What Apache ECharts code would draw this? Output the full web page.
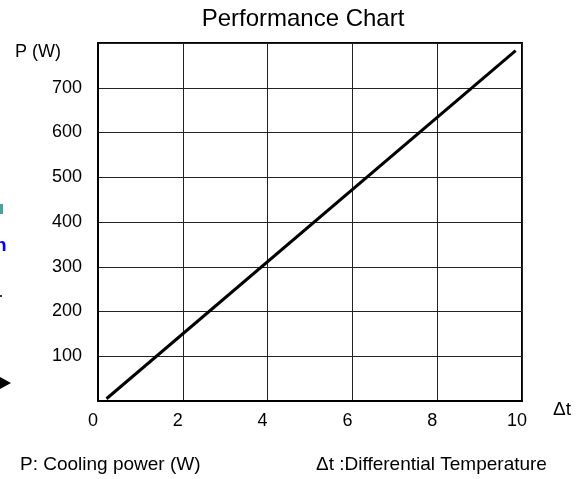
<!DOCTYPE html>
<html><head><meta charset="utf-8">
<script src="https://cdn.jsdelivr.net/npm/echarts@6/dist/echarts.min.js"></script>
<style>html,body{margin:0;padding:0;background:#fff}#c{width:585px;height:479px}</style>
</head><body><div id="c"></div>
<script>
const title = 'Performance Chart';
const yName = 'P (W)';
const xName = 'Δt';
const noteLeft = 'P: Cooling power (W)';
const noteRight = 'Δt :Differential Temperature';
const deltaT = [0.2, 9.85];
const power = [5, 783];
const xMin = 0, xMax = 10, xStep = 2;
const yMin = 0, yMax = 800, yStep = 100;

const chart = echarts.init(document.getElementById('c'));
const F = 'Liberation Sans, Arial, sans-serif';
chart.setOption({
  animation: false,
  backgroundColor: '#fff',
  title: {text: title, left: 298, top: 2, textAlign: 'center',
    textStyle: {fontFamily: F, fontSize: 24, fontWeight: 'normal', color: '#000'}},
  grid: {left: 98, right: 63, top: 43, bottom: 78, show: true, borderColor: '#000', borderWidth: 2},
  xAxis: {type: 'value', min: xMin, max: xMax, interval: xStep,
    axisLine: {show: true, lineStyle: {color: '#000', width: 2}},
    axisTick: {show: false},
    axisLabel: {color: '#000', fontFamily: F, fontSize: 18, margin: 11, padding: [0, 10, 0, 0]},
    splitLine: {show: true, lineStyle: {color: '#222', width: 1}}},
  yAxis: {type: 'value', min: yMin, max: yMax, interval: yStep,
    axisLine: {show: true, lineStyle: {color: '#000', width: 2}},
    axisTick: {show: false},
    axisLabel: {color: '#000', fontFamily: F, fontSize: 18, margin: 16,
      formatter: v => (v === yMin || v === yMax) ? '' : String(v)},
    splitLine: {show: true, lineStyle: {color: '#222', width: 1}}},
  series: [{type: 'line', data: deltaT.map((x, i) => [x, power[i]]), symbol: 'none',
    lineStyle: {color: '#000', width: 3}}],
  graphic: [
    {type: 'text', left: 15, top: 43, style: {text: yName, font: '18px ' + F, fill: '#000'}},
    {type: 'text', left: 553, top: 400, style: {text: xName, font: '19px ' + F, fill: '#000'}},
    {type: 'text', left: 20, top: 455, style: {text: noteLeft, font: '19px ' + F, fill: '#000'}},
    {type: 'text', left: 316, top: 455, style: {text: noteRight, font: '19px ' + F, fill: '#000'}},
    {type: 'rect', shape: {x: 0, y: 204, width: 3, height: 10}, style: {fill: '#4aa39a'}},
    {type: 'text', x: -5, y: 236, style: {text: 'n', font: 'bold 19px ' + F, fill: '#0000ff'}},
    {type: 'rect', shape: {x: 0, y: 295, width: 2, height: 2}, style: {fill: '#333'}},
    {type: 'polygon', shape: {points: [[0, 377], [11, 383], [0, 389]]}, style: {fill: '#000'}}
  ]
});
</script></body></html>
